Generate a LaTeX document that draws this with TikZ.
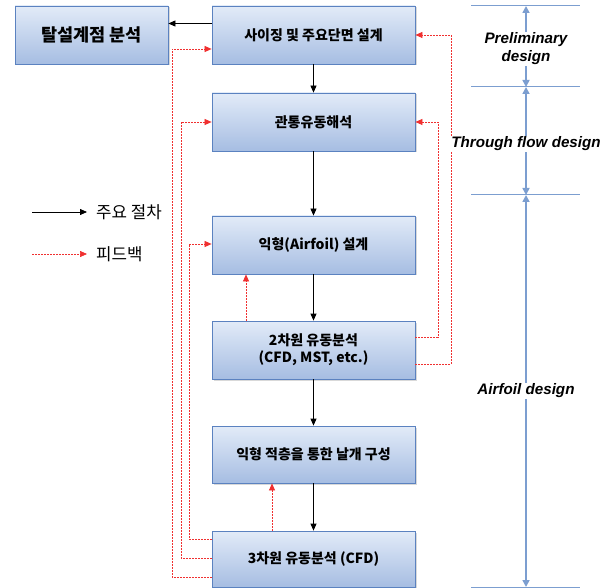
\documentclass[tikz,border=0pt]{standalone}
\usepackage{fontspec}
\setmainfont{Liberation Sans}
\newfontfamily\kr{Noto Sans CJK KR}
\usetikzlibrary{arrows.meta,shadows}
\definecolor{boxedge}{HTML}{5B82C0}
\definecolor{boxtop}{HTML}{E2EBF8}
\definecolor{boxbot}{HTML}{A6BDE2}
\definecolor{dimblue}{HTML}{7C9ED0}
\definecolor{fbred}{HTML}{F03030}
\tikzset{
  box/.style={draw=boxedge, line width=0.8pt, top color=boxtop, bottom color=boxbot,
    drop shadow={shadow xshift=1.5pt, shadow yshift=-1.5pt, opacity=0.3},
    minimum width=203pt, minimum height=58pt, inner sep=2pt, align=center,
    font=\kr\bfseries\fontsize{14}{17}\selectfont},
  mainarrow/.style={line width=0.8pt, black, -{Triangle[length=7pt,width=6pt]}},
  fbarrow/.style={line width=0.7pt, fbred, dash pattern=on 2pt off 1pt, -{Triangle[length=7pt,width=6pt]}},
  dimline/.style={line width=1pt, dimblue},
  dimarrow/.style={line width=1.6pt, dimblue, {Triangle[length=7pt,width=7pt]}-{Triangle[length=7pt,width=7pt]}},
  dimlabel/.style={fill=white, inner sep=1pt, align=center, font=\bfseries\itshape\fontsize{15.2}{18}\selectfont},
  legtext/.style={anchor=west, inner sep=0pt, font=\kr\fontsize{16.8}{20}\selectfont}
}
\begin{document}
\begin{tikzpicture}[x=1pt,y=-1pt]
\useasboundingbox (0,0) rectangle (608,588);
% boxes
\node[box, minimum width=153pt, font=\kr\bfseries\fontsize{17.5}{20}\selectfont] (A) at (91.5,35) {탈설계점 분석};
\node[box] (B) at (313.5,35) {사이징 및 주요단면 설계};
\node[box] (C) at (313.5,122) {관통유동해석};
\node[box] (D) at (313.5,245) {익형(Airfoil) 설계};
\node[box] (E) at (313.5,350) {2차원 유동분석\\(CFD, MST, etc.)};
\node[box, minimum height=57pt] (F) at (313.5,454.5) {익형 적층을 통한 날개 구성};
\node[box, minimum height=56pt] (G) at (313.5,559) {3차원 유동분석 (CFD)};
% main flow
\draw[mainarrow] ([yshift=11.5pt]B.west) -- ([yshift=11.5pt]A.east);
\draw[mainarrow] (B) -- (C);
\draw[mainarrow] (C) -- (D);
\draw[mainarrow] (D) -- (E);
\draw[mainarrow] (E) -- (F);
\draw[mainarrow] (F) -- (G);
% feedback
\draw[fbarrow] (G.west |- 0,577) -- (172,577) -- (172,49) -- (B.west |- 0,49);
\draw[fbarrow] (G.west |- 0,558) -- (181,558) -- (181,122) -- (C.west);
\draw[fbarrow] (G.west |- 0,539) -- (189,539) -- (189,244) -- (D.west |- 0,244);
\draw[fbarrow] (E.north -| 246,0) -- (D.south -| 246,0);
\draw[fbarrow] (G.north -| 272,0) -- (F.south -| 272,0);
\draw[fbarrow] (E.east |- 0,337) -- (438,337) -- (438,122) -- (C.east);
\draw[fbarrow] (E.east |- 0,364) -- (451,364) -- (451,35) -- (B.east);
% dimension lines
\coordinate (d0) at (526,6);
\coordinate (d1) at (526,87);
\coordinate (d2) at (526,195);
\coordinate (d3) at (526,587);
\foreach \c in {d0,d1,d2,d3} \draw[dimline] ([xshift=-55pt]\c) -- ([xshift=54pt]\c);
\draw[dimarrow] (d0) -- (d1);
\draw[dimarrow] (d1) -- (d2);
\draw[dimarrow] (d2) -- (d3);
\node[dimlabel] (l1) at (526,49) {Preliminary\\design};
\node[dimlabel] (l2) at (526,144) {Through flow design};
\node[dimlabel] (l3) at (526,391) {Airfoil design};
% legend
\coordinate (k1a) at (32,212);
\coordinate (k1b) at (87,212);
\coordinate (k2a) at (32,254);
\coordinate (k2b) at (87,254);
\draw[mainarrow] (k1a) -- (k1b);
\draw[fbarrow] (k2a) -- (k2b);
\node[legtext] (t1) at (96,212) {주요 절차};
\node[legtext] (t2) at (96,254) {피드백};
\end{tikzpicture}
\end{document}
